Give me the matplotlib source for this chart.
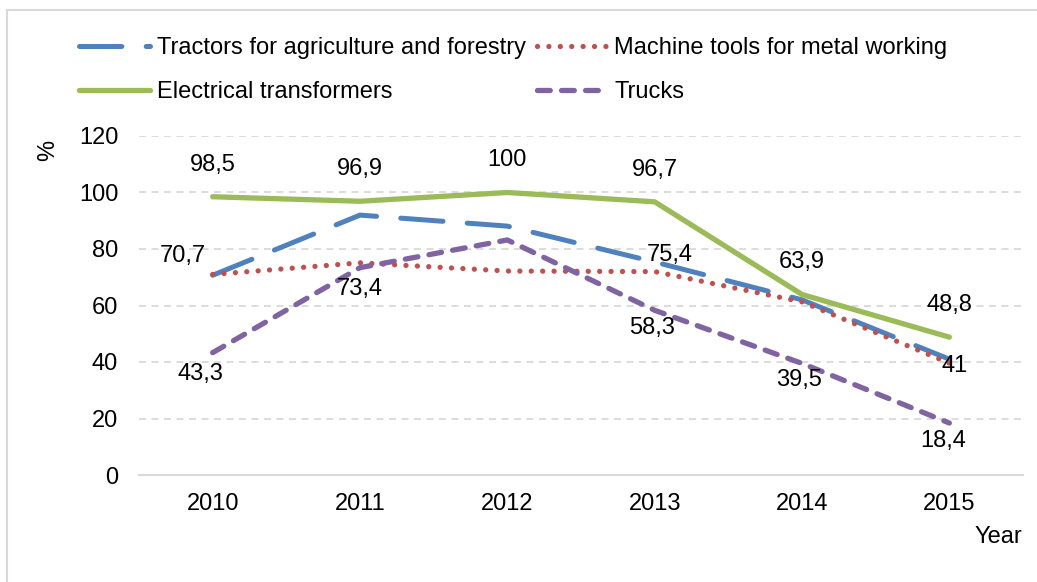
import matplotlib
matplotlib.use("Agg")
import matplotlib.pyplot as plt
from matplotlib.lines import Line2D

plt.rcParams['font.family'] = ['Liberation Sans', 'DejaVu Sans']
plt.rcParams['lines.scale_dashes'] = False

years = ['2010', '2011', '2012', '2013', '2014', '2015']
tractors = [70.7, 92.0, 88.1, 75.4, 62.0, 41.0]
machine_tools = [71.0, 75.1, 72.2, 72.0, 61.3, 39.6]
transformers = [98.5, 96.9, 100.0, 96.7, 63.9, 48.8]
trucks = [43.3, 73.4, 83.2, 58.3, 39.5, 18.4]

series_names = ['Tractors for agriculture and forestry', 'Machine tools for metal working',
                'Electrical transformers', 'Trucks']

W, H = 1037, 582
fig = plt.figure(figsize=(W / 100, H / 100), dpi=100)
ax = fig.add_axes([139 / W, 1 - 475 / H, (1023 - 139) / W, (475 - 136) / H])

x = list(range(len(years)))
fs = 17

l_tr, = ax.plot(x, tractors, color='#4F81BD', lw=3.6, dashes=(30.5, 17.5),
                dash_capstyle='round', solid_capstyle='round', label=series_names[0], zorder=3)
l_mt, = ax.plot(x, machine_tools, color='#C0504D', lw=3.8, dashes=(0.01, 8.2),
                dash_capstyle='round', label=series_names[1], zorder=3)
l_et, = ax.plot(x, transformers, color='#9BBB59', lw=3.8, solid_capstyle='round',
                solid_joinstyle='round', label=series_names[2], zorder=3)
l_tk, = ax.plot(x, trucks, color='#8064A2', lw=3.8, dashes=(9.2, 8.1),
                dash_capstyle='round', label=series_names[3], zorder=3)

ax.set_xlim(-0.5, len(years) - 0.5)
ax.set_ylim(0, 120)
ax.set_yticks(range(0, 121, 20))
ax.set_xticks(x)
ax.set_xticklabels(years)
ax.tick_params(axis='both', length=0, labelsize=fs)
ax.tick_params(axis='y', pad=15)
ax.tick_params(axis='x', pad=13)
for s in ['top', 'right', 'left']:
    ax.spines[s].set_visible(False)
ax.spines['bottom'].set_color('#D9D9D9')
ax.spines['bottom'].set_linewidth(1.5)
ax.yaxis.grid(True, color='#D9D9D9', lw=1.3, dashes=(5, 4))
ax.set_axisbelow(True)

def lab(xi, yv, text, dx, dy):
    ax.annotate(text, (xi, yv), xytext=(dx, dy), textcoords='offset pixels',
                ha='center', va='center', fontsize=fs, zorder=5)

for i, v in enumerate(transformers):
    lab(i, v, f"{v:g}".replace('.', ','), 0, 32)
lab(0, tractors[0], '70,7', -30, 19)
lab(3, tractors[3], '75,4', 15, 7)
lab(5, tractors[5], '41', 5, -7)
lab(0, trucks[0], '43,3', -12, -21)
lab(1, trucks[1], '73,4', 0, -21)
lab(3, trucks[3], '58,3', -3, -18)
lab(4, trucks[4], '39,5', -3, -17)
lab(5, trucks[5], '18,4', -6, -18)

# legend is filled column by column: order handles so rows read as in the reference
leg = fig.legend(handles=[l_tr, l_et, l_mt, l_tk], ncol=2, loc='upper left',
                 bbox_to_anchor=(79 / W, 1 - 37 / H), frameon=False, fontsize=fs,
                 handlelength=3.0, handletextpad=0.3, columnspacing=0.45,
                 labelspacing=0.95, borderaxespad=0, borderpad=0)

fig.text(48 / W, 1 - 150 / H, '%', rotation=90, ha='center', va='center', fontsize=fs)
fig.text(1022 / W, 1 - 537 / H, 'Year', ha='right', va='center', fontsize=fs)

fig.add_artist(Line2D([7 / W, 7 / W], [0, 1 - 10 / H], color='#D9D9D9', lw=1.5, transform=fig.transFigure))
fig.add_artist(Line2D([7 / W, 1], [1 - 10 / H, 1 - 10 / H], color='#D9D9D9', lw=1.5, transform=fig.transFigure))

fig.savefig('out.png', dpi=100)
